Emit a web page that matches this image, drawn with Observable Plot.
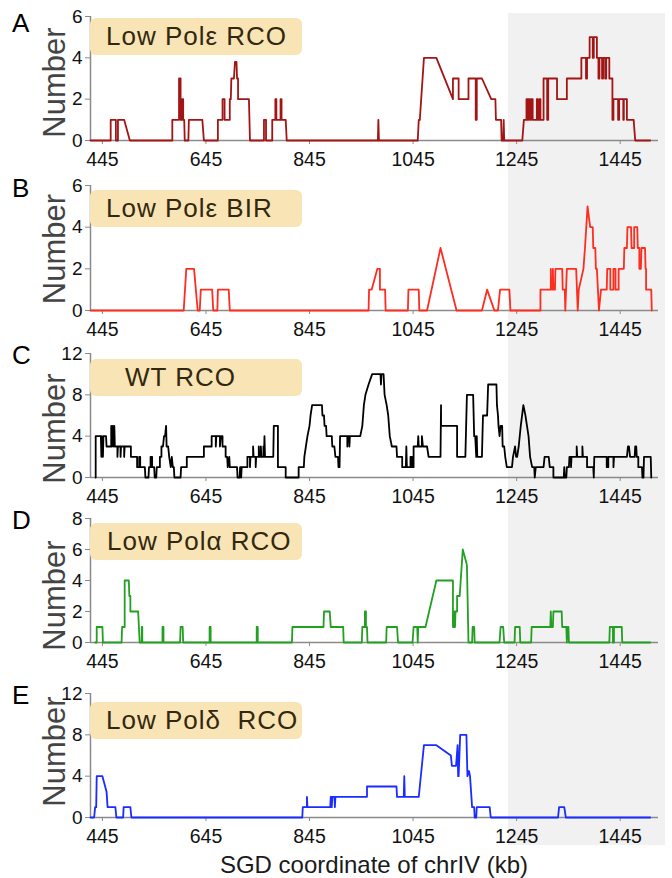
<!DOCTYPE html>
<html><head><meta charset="utf-8">
<script src="https://cdn.jsdelivr.net/npm/d3@7"></script>
<script src="https://cdn.jsdelivr.net/npm/@observablehq/plot@0.6"></script>
<style>
body{margin:0;background:#fff;font-family:"Liberation Sans",Arial,sans-serif;}
#chart{position:relative;width:672px;height:878px;z-index:0;background:#fff;overflow:hidden;}
.pl{position:absolute;left:0;}
.shade{position:absolute;background:#f1f1f1;z-index:-1;}
.letter{position:absolute;left:12px;font-size:26px;line-height:26px;color:#000;z-index:2;}
.tag{position:absolute;left:90px;width:212px;height:37px;background:#f8e4b4;border-radius:6px;box-sizing:border-box;font-size:26px;letter-spacing:1px;color:#33280f;display:flex;align-items:center;z-index:2;white-space:pre;}
.xtitle{position:absolute;left:90px;width:568px;top:851px;font-size:24px;line-height:28px;text-align:center;color:#1a1a1a;}
</style></head><body><div id="chart"></div>
<script>
// ---- data ----
const xDomain = [422, 1519];
const xTicks = [445, 645, 845, 1045, 1245, 1445];
const shadeStartKb = 1230;
const panelLetters = ["A", "B", "C", "D", "E"];
const panelTitles = ["Low Polε RCO", "Low Polε BIR", "WT RCO", "Low Polα RCO", "Low Polδ  RCO"];
const yMaxes = [6, 6, 12, 8, 12];
const yTicksA = [0, 2, 4, 6];
const yTicksB = [0, 2, 4, 6];
const yTicksC = [0, 4, 8, 12];
const yTicksD = [0, 2, 4, 6, 8];
const yTicksE = [0, 4, 8, 12];
const colors = ["#a31515", "#ff2d20", "#000000", "#22a022", "#1a2cff"];

// [kb, number]
const seriesA = [[422,0],[461,0],[461,1],[471,1],[471,0],[475,0],[475,1],[487,1],[498,0],
[580,0],[580,1],[593,1],[593,3],[596,3],[596,1],[599,1],[599,2],[601,2],[601,1],[603,1],[604,0],[611,0],[612,1],[638,1],[641,0],
[668,0],[668,1],[677,1],[677,2],[681,2],[681,1],[691,1],[691,2],[693,2],[694,3],[699,3],[701,3.8],[704,3.8],[705,3],[707,3],[707,2],[728,2],[730,0],
[757,0],[757,1],[761,1],[761,0],[773,0],[773,1],[779,1],[779,2],[781,2],[781,1],[789,1],[789,2],[791,2],[791,1],[799,1],[801,0],
[977,0],[978,1],[979,0],
[1054,0],[1056,1],[1058,1],[1066,4],[1090,4],[1122,2],[1122,3],[1133,3],[1133,2],[1152,2],[1152,3],[1166,3],[1166,1],[1168,1],[1168,3],[1178,3],[1196,2],[1204,2],[1205,1],[1215,1],[1216,0],[1219,0],[1220,1],[1221,0],
[1256,0],[1259,1],[1264,1],[1264,2],[1266,2],[1266,1],[1268,1],[1268,2],[1271,2],[1271,1],[1273,1],[1273,2],[1276,2],[1276,1],[1284,1],[1284,2],[1286,2],[1286,1],[1289,1],[1289,2],[1291,2],[1291,1],[1297,1],[1297,3],[1304,3],[1304,1],[1306,1],[1306,3],[1323,3],[1323,2],[1342,2],[1342,3],[1370,3],[1370,4],[1379,4],[1379,3],[1381,3],[1381,4],[1386,4],[1386,5],[1392,5],[1392,4],[1394,4],[1394,5],[1400,5],[1400,4],[1403,4],[1403,3],[1405,3],[1405,4],[1410,4],[1410,3],[1412,3],[1412,4],[1416,4],[1416,3],[1418,3],[1418,4],[1424,4],[1424,3],[1430,3],[1430,1],[1432,1],[1432,2],[1441,2],[1441,1],[1443,1],[1443,2],[1451,2],[1451,1],[1452,1],[1452,2],[1458,2],[1458,1],[1471,1],[1474,0],[1503,0]];

const seriesB = [[422,0],[602,0],[607,2],[622,2],[629,0],[633,0],[635,1],[657,1],[659,0],[667,0],[668,1],[689,1],[691,0],
[959,0],[960,1],[965,1],[976,2],[981,2],[981,1],[991,1],[992,0],
[1035,0],[1036,1],[1056,1],[1057,0],[1072,0],[1098,3],[1129,0],
[1178,0],[1188,1],[1202,0],[1209,0],[1213,1],[1231,1],[1233,0],
[1291,0],[1291,1],[1311,1],[1311,2],[1312,1],[1315,1],[1315,2],[1316,1],[1319,1],[1320,2],[1333,2],[1334,1],[1338,1],[1339,0],[1342,2],[1360,2],[1363,0],[1365,1],[1374,2],[1377,3],[1382,5],[1387,4],[1392,4],[1393,3],[1397,3],[1398,2],[1400,2],[1404,0],[1408,1],[1419,1],[1420,2],[1426,2],[1426,1],[1432,1],[1432,2],[1436,2],[1436,1],[1442,1],[1442,2],[1452,2],[1453,3],[1458,3],[1459,4],[1466,4],[1467,3],[1472,3],[1472,4],[1478,4],[1479,3],[1482,3],[1482,2],[1485,2],[1486,3],[1493,3],[1494,2],[1495,2],[1495,1],[1505,1],[1506,0]];

const seriesC = [[432,0],[432,4],[442,4],[443,2],[444,4],[446,2],[447,4],[452,4],[453,3],[462,3],[462,5],[463,3],[465,5],[466,3],[468,5],[469,3],[474,3],[474,2],[475,3],[480,3],[480,2],[481,3],[487,3],[487,2],[488,3],[500,3],[500,2],[512,2],[512,1],[516,1],[516,2],[518,2],[518,1],[527,1],[528,0],[534,0],[535,1],[538,1],[538,2],[541,2],[541,1],[545,1],[546,0],[549,0],[550,1],[556,1],[556,2],[559,2],[559,3],[562,3],[564,4],[566,4],[568,5],[569,3],[572,3],[574,2],[577,1],[579,2],[581,1],[583,1],[584,0],[596,0],[597,1],[608,1],[608,2],[641,2],[641,3],[656,3],[656,4],[664,4],[664,3],[665,4],[672,4],[672,3],[674,4],[677,4],[677,3],[683,3],[683,2],[686,2],[687,1],[690,2],[691,1],[705,1],[706,0],[710,0],[711,1],[713,1],[713,0],[714,1],[725,1],[725,2],[730,2],[730,1],[731,2],[736,2],[736,3],[737,2],[741,2],[741,1],[742,2],[747,2],[747,3],[748,2],[751,2],[751,3],[752,2],[756,2],[756,3],[757,2],[758,4],[759,2],[775,2],[776,5],[784,5],[784,1],[799,1],[799,0],[824,0],[824,1],[834,1],[835,2],[838,3],[841,4],[845,5],[847,6],[850,7],[869,7],[870,6],[873,6],[874,5],[877,5],[878,4],[888,4],[889,3],[893,3],[895,2],[900,2],[901,1],[903,1],[904,4],[918,4],[918,3],[919,4],[922,4],[922,3],[923,4],[943,4],[947,5],[950,7],[953,8],[959,9],[966,10],[982,10],[983,9],[984,10],[988,10],[990,8],[994,7],[997,6],[1000,4],[1004,3],[1013,3],[1014,2],[1024,2],[1024,1],[1031,1],[1032,3],[1033,1],[1040,1],[1040,2],[1043,2],[1043,1],[1046,1],[1046,3],[1054,3],[1055,4],[1056,3],[1062,3],[1062,4],[1064,3],[1072,3],[1075,2],[1098,2],[1099,7],[1099,5],[1130,5],[1130,2],[1146,2],[1149,8],[1161,8],[1163,4],[1165,4],[1166,3],[1167,2],[1168,4],[1169,2],[1178,2],[1180,6],[1188,6],[1190,9],[1206,9],[1207,7],[1209,6],[1210,5],[1212,4],[1214,5],[1217,5],[1218,3],[1221,3],[1223,2],[1226,1],[1236,1],[1238,2],[1242,3],[1244,2],[1246,2],[1249,3],[1253,5],[1258,7],[1262,6],[1265,5],[1268,4],[1271,2],[1275,1],[1279,1],[1280,0],[1282,1],[1297,1],[1299,2],[1307,2],[1309,1],[1316,1],[1316,0],[1336,0],[1337,1],[1338,0],[1341,0],[1342,1],[1346,1],[1347,2],[1350,2],[1350,1],[1351,2],[1361,2],[1361,3],[1362,2],[1372,2],[1372,3],[1373,2],[1381,2],[1381,1],[1384,1],[1393,1],[1394,0],[1395,2],[1419,2],[1419,1],[1422,1],[1422,2],[1432,2],[1432,1],[1433,2],[1458,2],[1460,3],[1462,3],[1464,2],[1473,2],[1474,3],[1476,3],[1477,2],[1480,2],[1480,1],[1487,1],[1488,0],[1490,0],[1491,2],[1504,2],[1505,0]];

const seriesD = [[431,0],[434,0],[434,1],[445,1],[446,0],[482,0],[483,1],[488,1],[488,4],[496,4],[497,3],[499,3],[499,2],[514,2],[517,0],[521,0],[521,1],[522,1],[522,0],[561,0],[561,1],[563,1],[563,0],[595,0],[596,1],[600,1],[601,0],[652,0],[652,1],[654,1],[654,0],[743,0],[743,1],[745,1],[745,0],[811,0],[812,1],[872,1],[873,2],[884,2],[886,1],
[910,1],[911,0],[946,0],[947,1],[952,1],[952,2],[954,2],[954,1],[956,1],[957,0],[993,0],[994,1],[1014,1],[1016,0],[1044,0],[1046,1],[1053,1],[1054,0],[1055,1],[1069,1],[1090,4],[1122,4],[1122,1],[1124,1],[1125,2],[1126,1],[1127,2],[1130,2],[1130,3],[1135,3],[1141,6],[1149,5],[1152,0],[1159,0],[1160,1],[1163,1],[1164,0],[1212,0],[1214,1],[1219,1],[1221,0],[1241,0],[1242,1],[1251,1],[1252,0],[1273,0],[1274,1],[1310,1],[1311,2],[1312,1],[1315,1],[1316,2],[1332,2],[1333,1],[1341,1],[1342,0],[1343,1],[1345,1],[1346,0],[1424,0],[1425,1],[1431,1],[1431,0],[1433,0],[1433,1],[1448,1],[1449,0],[1503,0]];

const seriesE = [[422,0],[429,0],[431,1],[433,1],[434,4],[445,4],[453,2.5],[455,1],[470,1],[472,0],[485,0],[486,1],[499,1],[501,0],[831,0],[832,1],[840,1],[840,2],[841,1],[885,1],[886,2],[888,2],[888,1],[889,2],[893,2],[894,1],[895,2],[956,2],[956,3],[1013,3],[1014,2],[1027,2],[1028,4],[1029,2],[1056,2],[1058,3],[1066,7],[1090,7],[1118,6],[1120,5],[1128,5],[1131,7],[1132,4],[1133,4],[1136,8],[1148,8],[1150,4],[1153,4.5],[1155,4],[1159,1],[1163,1],[1164,0],[1167,0],[1168,1],[1193,1],[1195,0],[1325,0],[1327,1],[1337,1],[1340,0],[1503,0]];

// ---- layout ----
const series = [seriesA, seriesB, seriesC, seriesD, seriesE];
const yTicks = [yTicksA, yTicksB, yTicksC, yTicksD, yTicksE];
const tops = [0, 170, 336, 501, 666];
const heights = [170, 166, 165, 165, 181];
const mTop = [16, 15, 17, 17, 27];
const mBot = [30, 26, 24, 24, 30];
const labelDy = [4, 1, 13, 15, -4];
const letterTops = [10, 175, 342, 507, 682];
const tagTops = [18, 190, 359, 523, 702];
const tagPad = [16, 16, 35, 17, 16];
const axisGray = "#8a8a8a";

const chart = document.getElementById("chart");
let xScale = null;

series.forEach((s, i) => {
  const data = s.map(([kb, n]) => ({kb, n}));
  const p = Plot.plot({
    width: 672, height: heights[i],
    marginLeft: 90, marginRight: 14, marginTop: mTop[i], marginBottom: mBot[i],
    style: {background: "transparent", overflow: "visible", fontFamily: "'Liberation Sans', Arial, sans-serif"},
    x: {domain: xDomain},
    y: {domain: [0, yMaxes[i]]},
    marks: [
      Plot.ruleY([0], {stroke: axisGray, strokeWidth: 1.5}),
      Plot.ruleX([xDomain[0]], {y1: 0, y2: yMaxes[i], stroke: axisGray, strokeWidth: 1.5}),
      Plot.axisX({ticks: xTicks, tickSize: 4, tickPadding: 8, fontSize: 19.5, stroke: axisGray, fill: "#111", label: null, tickFormat: d => `${d}`}),
      Plot.axisY({ticks: yTicks[i], tickSize: 5, tickPadding: 3, fontSize: 19, stroke: axisGray, fill: "#111", label: null, tickFormat: d => `${d}`}),
      Plot.line(data, {x: "kb", y: "n", stroke: colors[i], strokeWidth: 1.8}),
      Plot.text(["Number"], {frameAnchor: "left", textAnchor: "middle", lineAnchor: "middle", dx: -35, dy: labelDy[i], rotate: -90, fontSize: 31, fill: "#444"})
    ]
  });
  p.classList.add("pl");
  p.style.position = "absolute";
  p.style.top = tops[i] + "px";
  chart.appendChild(p);
  if (i === 0) xScale = p.scale("x");

  const L = document.createElement("div");
  L.className = "letter";
  L.style.top = letterTops[i] + "px";
  L.textContent = panelLetters[i];
  chart.appendChild(L);

  const T = document.createElement("div");
  T.className = "tag";
  T.style.top = tagTops[i] + "px";
  T.style.paddingLeft = tagPad[i] + "px";
  T.textContent = panelTitles[i];
  chart.appendChild(T);
});

const shade = document.createElement("div");
shade.className = "shade";
const sx = xScale.apply(shadeStartKb);
shade.style.left = sx + "px";
shade.style.top = "13px";
shade.style.width = (665 - sx) + "px";
shade.style.height = (845 - 13) + "px";
chart.appendChild(shade);

const xt = document.createElement("div");
xt.className = "xtitle";
xt.textContent = "SGD coordinate of chrIV (kb)";
chart.appendChild(xt);
</script>
</body></html>
